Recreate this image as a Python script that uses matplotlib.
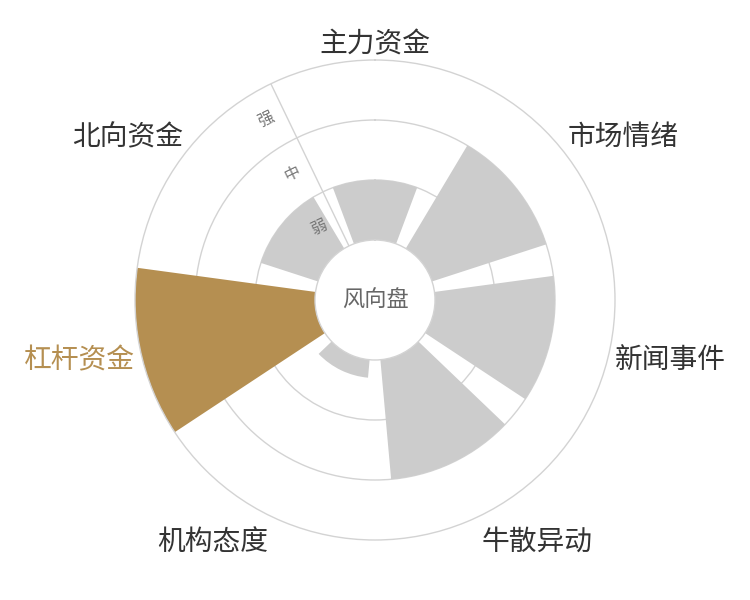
import numpy as np
import matplotlib
matplotlib.use("Agg")
import matplotlib.pyplot as plt

plt.rcParams['font.family'] = ['Noto Sans CJK SC', 'DejaVu Sans']

# data (0 = 弱 bottom, 3 = 强 top)
categories = ['主力资金', '市场情绪', '新闻事件', '牛散异动', '机构态度', '杠杆资金', '北向资金']
values = [1, 2, 2, 2, 0.3, 3, 1]
highlight = '杠杆资金'
level_labels = ['弱', '中', '强']
level_pos = [0.5, 1.5, 2.5]
center_title = '风向盘'

GREY = '#cccccc'
GOLD = '#b58f51'
LINE = '#d3d3d3'

n = len(categories)
step = 2 * np.pi / n
theta = np.arange(n) * step
colors = [GOLD if c == highlight else GREY for c in categories]

fig = plt.figure(figsize=(7.5, 6), dpi=100)
ax = fig.add_axes([0.18, 0.1, 0.64, 0.8], projection='polar')
ax.set_theta_zero_location('N')
ax.set_theta_direction(-1)

ax.bar(theta, values, width=step * 0.8, color=colors, linewidth=0, zorder=2)

# grid: two rings plus a single radial axis line between first and last sector
axis_ang = 2 * np.pi - step / 2
ax.set_xticks([axis_ang])
ax.set_xticklabels([''])
ax.set_yticks([1, 2])
ax.set_yticklabels([])
ax.set_xlim(0, 2 * np.pi)
ax.set_rorigin(-1)
ax.set_ylim(0, 3)
ax.grid(color=LINE, linewidth=1)
ax.set_axisbelow(True)
ax.tick_params(length=0)
for name in ('polar', 'inner'):
    ax.spines[name].set_color(LINE)
    ax.spines[name].set_linewidth(1)

# category labels outside the ring
for ang, cat in zip(theta, categories):
    math_ang = np.pi / 2 - ang
    c, s = np.cos(math_ang), np.sin(math_ang)
    ha = 'left' if c > 0.1 else ('right' if c < -0.1 else 'center')
    va = 'bottom' if s > 0.5 else ('top' if s < -0.5 else 'center')
    ax.annotate(cat, xy=(ang, 3.1), xytext=(0, -4), textcoords='offset points',
                ha=ha, va=va, fontsize=20, annotation_clip=False,
                color=GOLD if cat == highlight else '#333333')

# level labels along the radial axis line
rot = np.degrees(2 * np.pi - axis_ang)
perp = np.pi / 2 - axis_ang + np.pi / 2
dx, dy = 14 * np.cos(perp), 14 * np.sin(perp)
for r, lab in zip(level_pos, level_labels):
    ax.annotate(lab, xy=(axis_ang, r), xytext=(dx, dy), textcoords='offset points',
                ha='center', va='center', rotation=rot, fontsize=11.5, color='#777777')

ax.text(0.5, 0.5, center_title, transform=ax.transAxes, ha='center', va='center',
        fontsize=16, color='#666666')

fig.savefig('out.png', dpi=100, facecolor='white')
